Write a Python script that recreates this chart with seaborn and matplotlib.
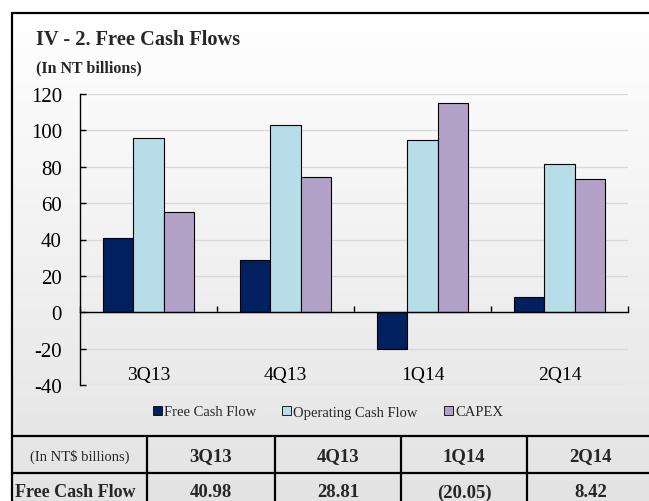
import numpy as np
import pandas as pd
import matplotlib
matplotlib.use("Agg")
import matplotlib.pyplot as plt
from matplotlib.lines import Line2D
from matplotlib.patches import Patch
from matplotlib.colors import LinearSegmentedColormap
import seaborn as sns

# ---- data ----
quarters = ["3Q13", "4Q13", "1Q14", "2Q14"]
free_cash_flow = [40.98, 28.81, -20.05, 8.42]
operating_cash_flow = [96.0, 102.9, 94.8, 81.6]
capex = [55.0, 74.1, 114.9, 73.2]
series_names = ["Free Cash Flow", "Operating Cash Flow", "CAPEX"]
fcf_labels = ["40.98", "28.81", "(20.05)", "8.42"]
y_ticks = [-40, -20, 0, 20, 40, 60, 80, 100, 120]

colors = ["#002060", "#b7dde8", "#b3a2c7"]

sns.set_style("white")
plt.rcParams["font.family"] = ["Liberation Serif", "DejaVu Serif"]

W, H = 649, 502
fig = plt.figure(figsize=(W / 100, H / 100), dpi=100)

def fx(px):
    return px / W

def fy(py):
    return 1 - py / H

# background gradient
bg = fig.add_axes([0, 0, 1, 1], zorder=-10)
bg.set_axis_off()
cmap = LinearSegmentedColormap.from_list("g", ["#ffffff", "#e3e3e3"])
grad = np.linspace(0, 1, 256).reshape(-1, 1)
bg.imshow(grad, cmap=cmap, aspect="auto",
          extent=[fx(12), 1, fy(H), fy(14)], origin="upper")
bg.set_xlim(0, 1)
bg.set_ylim(0, 1)

df = pd.DataFrame({
    "quarter": quarters * 3,
    "value": free_cash_flow + operating_cash_flow + capex,
    "series": sum([[s] * len(quarters) for s in series_names], []),
})

ax = fig.add_axes([fx(80), fy(386), fx(628) - fx(80), fy(95) - fy(386)])
ax.set_facecolor("none")
sns.barplot(data=df, x="quarter", y="value", hue="series", order=quarters,
            hue_order=series_names, palette=colors, width=0.67,
            saturation=1, edgecolor="black", linewidth=0.8, legend=False, ax=ax)

ax.set_xlim(-0.5, len(quarters) - 0.5)
ax.set_ylim(-40, 120)
ax.set_yticks(y_ticks)
ax.set_yticklabels([str(v) for v in y_ticks])
ax.yaxis.grid(True, color="#d9d9d9", linewidth=1)
ax.xaxis.grid(False)
ax.set_axisbelow(True)
ax.set_xlabel("")
ax.set_ylabel("")

for s in ["top", "right"]:
    ax.spines[s].set_visible(False)
ax.spines["left"].set_color("black")
ax.spines["left"].set_linewidth(1)
ax.spines["bottom"].set_position(("data", 0))
ax.spines["bottom"].set_color("black")
ax.spines["bottom"].set_linewidth(1)

ax.tick_params(axis="y", direction="in", length=4, width=1, color="black",
               labelsize=15, pad=13, labelcolor="black", left=True)
ax.set_xticks(range(len(quarters)))
ax.set_xticklabels(quarters)
ax.tick_params(axis="x", which="major", length=0, labelsize=14, pad=39,
               labelcolor="black")
ax.set_xticks(np.arange(-0.5, len(quarters), 1.0), minor=True)
ax.tick_params(axis="x", which="minor", direction="in", length=4, width=1,
               color="black", bottom=True)

# legend
handles = [Patch(facecolor=c, edgecolor="black", linewidth=0.6) for c in colors]
fig.legend(handles, series_names, loc="center", bbox_to_anchor=(fx(328), fy(413)),
           ncol=3, frameon=False, fontsize=10.5, handlelength=0.6, handleheight=0.6,
           handletextpad=0.15, columnspacing=1.8)

# titles
fig.text(fx(36), fy(40), "IV - 2. Free Cash Flows", fontsize=14.7, fontweight="bold",
         ha="left", va="center")
fig.text(fx(36), fy(68), "(In NT billions)", fontsize=11.5, fontweight="bold",
         ha="left", va="center")

# outer border
lw = 1.6
fig.add_artist(Line2D([fx(12), fx(12)], [fy(14), 0], transform=fig.transFigure,
                      color="black", linewidth=lw))
fig.add_artist(Line2D([fx(12), 1], [fy(14), fy(14)], transform=fig.transFigure,
                      color="black", linewidth=lw))

# table
for yy in [437, 474]:
    fig.add_artist(Line2D([fx(12), 1], [fy(yy), fy(yy)], transform=fig.transFigure,
                          color="black", linewidth=lw))
col_edges = [12, 147, 275, 401, 527, 655]
for xx in col_edges[1:-1]:
    fig.add_artist(Line2D([fx(xx), fx(xx)], [fy(437), 0], transform=fig.transFigure,
                          color="black", linewidth=lw))
centers = [(col_edges[i] + col_edges[i + 1]) / 2 for i in range(len(col_edges) - 1)]
fig.text(fx(centers[0]), fy(457), "(In NT$ billions)", fontsize=10.5,
         ha="center", va="center")
fig.text(fx(centers[0] - 4), fy(493), "Free Cash Flow", fontsize=13, fontweight="bold",
         ha="center", va="center")
for i, q in enumerate(quarters):
    fig.text(fx(centers[i + 1]), fy(457), q, fontsize=13.5, fontweight="bold",
             ha="center", va="center")
    fig.text(fx(centers[i + 1]), fy(493), fcf_labels[i], fontsize=13.5, fontweight="bold",
             ha="center", va="center")

fig.savefig("out.png", dpi=100)
